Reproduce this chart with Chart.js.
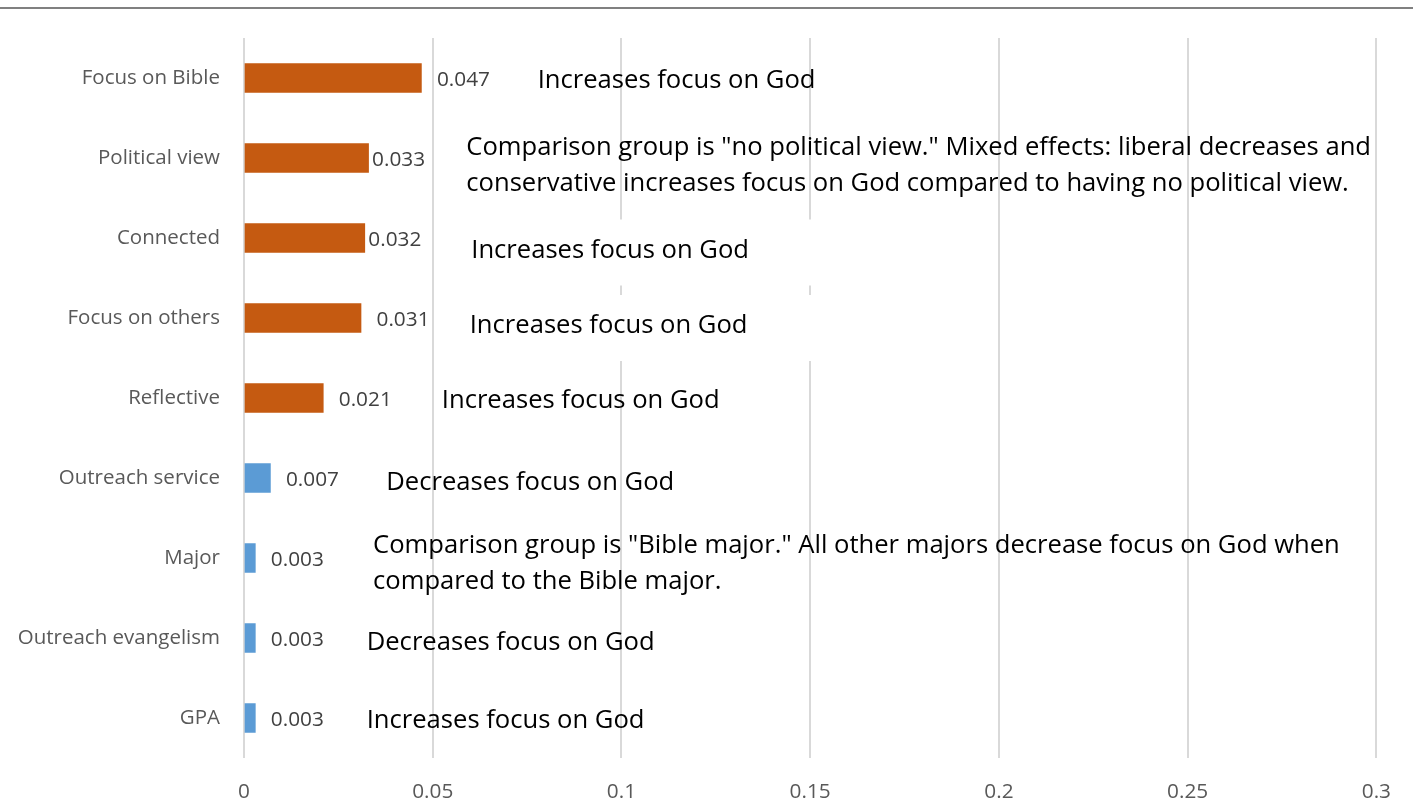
<!DOCTYPE html>
<html>
<head>
<meta charset="utf-8">
<script src="https://cdn.jsdelivr.net/npm/chart.js@4.4.1/dist/chart.umd.min.js"></script>
<style>
  html, body { margin: 0; padding: 0; background: #fff; }
  #wrap { width: 1413px; height: 812px; }
</style>
</head>
<body>
<div id="wrap"><canvas id="effectChart" width="1413" height="812"></canvas></div>
<script>
  const categories = ['Focus on Bible', 'Political view', 'Connected', 'Focus on others', 'Reflective',
    'Outreach service', 'Major', 'Outreach evangelism', 'GPA'];
  const effectSizes = [0.047, 0.033, 0.032, 0.031, 0.021, 0.007, 0.003, 0.003, 0.003];
  const xTickLabels = ['0', '0.05', '0.1', '0.15', '0.2', '0.25', '0.3'];
  const notes = [
    ['Increases focus on God'],
    ['Comparison group is "no political view." Mixed effects: liberal decreases and',
     'conservative increases focus on God compared to having no political view.'],
    ['Increases focus on God'],
    ['Increases focus on God'],
    ['Increases focus on God'],
    ['Decreases focus on God'],
    ['Comparison group is "Bible major." All other majors decrease focus on God when',
     'compared to the Bible major.'],
    ['Decreases focus on God'],
    ['Increases focus on God']
  ];

  // styling / placement of the bars and the side notes
  const ORANGE = '#C55A11', BLUE = '#5B9BD5';
  const barColors = [ORANGE, ORANGE, ORANGE, ORANGE, ORANGE, BLUE, BLUE, BLUE, BLUE];
  const noteStart = [0.0778, 0.0589, 0.0602, 0.0598, 0.0524, 0.0377, 0.0342, 0.0325, 0.0325]; // in axis units
  const noteBaseline = [10, -3, 19.5, 15, 10, 12, -5, 12, 10]; // px from category centre
  const noteMasked = [false, false, true, true, false, false, false, false, false];
  const valueNudge = [0, -12, -12, 0, 0, 0, 0, 0, 0];

  const SMALL_FONT = '20.8px "Open Sans"';
  const NOTE_FONT = '25.6px "Open Sans"';

  const extras = {
    id: 'extras',
    beforeDraw(chart) {
      const c = chart.ctx;
      c.save();
      c.strokeStyle = '#808080';
      c.lineWidth = 2;
      c.beginPath();
      c.moveTo(0, 8);
      c.lineTo(chart.width, 8);
      c.stroke();
      c.restore();
    },
    afterDatasetsDraw(chart) {
      const c = chart.ctx;
      const xs = chart.scales.x, ys = chart.scales.y;
      c.save();
      // value labels next to each bar
      c.font = SMALL_FONT;
      c.fillStyle = '#404040';
      c.textAlign = 'left';
      c.textBaseline = 'middle';
      effectSizes.forEach((v, i) => {
        const x = xs.getPixelForValue(v) + 15.5 + valueNudge[i];
        c.fillText(v.toFixed(3), x, ys.getPixelForValue(i) + 2);
      });
      // notes
      c.font = NOTE_FONT;
      c.textBaseline = 'alphabetic';
      notes.forEach((lines, i) => {
        const x = xs.getPixelForValue(noteStart[i]);
        const y = ys.getPixelForValue(i) + noteBaseline[i];
        if (noteMasked[i]) {
          c.fillStyle = '#fff';
          c.fillRect(x - 16, y - 38, 435, 66);
        }
        c.fillStyle = '#000';
        lines.forEach((t, k) => c.fillText(t, x, y + k * 36));
      });
      c.restore();
    }
  };

  new Chart(document.getElementById('effectChart'), {
    type: 'bar',
    data: {
      labels: categories,
      datasets: [{
        data: effectSizes,
        backgroundColor: barColors,
        barThickness: 29
      }]
    },
    options: {
      indexAxis: 'y',
      responsive: false,
      animation: false,
      layout: { padding: { top: 38, right: 35, left: 0, bottom: 0 } },
      plugins: { legend: { display: false }, tooltip: { enabled: false } },
      scales: {
        x: {
          min: 0,
          max: 0.3,
          afterFit(scale) { scale.height = 54; },
          afterBuildTicks(scale) {
            scale.ticks = xTickLabels.map(t => ({ value: parseFloat(t) }));
          },
          ticks: {
            padding: 22,
            color: '#595959',
            font: { family: 'Open Sans', size: 20.8 },
            callback: (v, i) => xTickLabels[i]
          },
          grid: { color: '#d9d9d9', lineWidth: 2, drawTicks: false },
          border: { display: false }
        },
        y: {
          afterFit(scale) { scale.width = 244; },
          ticks: {
            padding: 24,
            color: '#595959',
            font: { family: 'Open Sans', size: 20.5 }
          },
          grid: { display: false, drawTicks: false },
          border: { display: false }
        }
      }
    },
    plugins: [extras]
  });
</script>
</body>
</html>
